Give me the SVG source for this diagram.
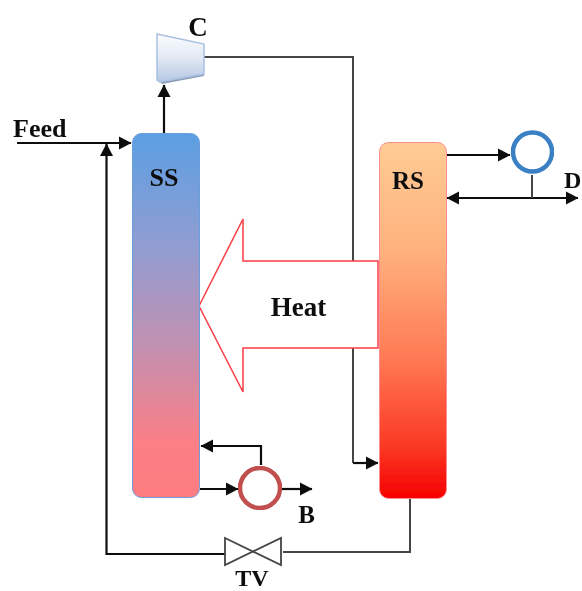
<svg xmlns="http://www.w3.org/2000/svg" width="582" height="591" viewBox="0 0 582 591">
<style>
g{filter:url(#soft)}
.lbl{font-family:"Liberation Serif","DejaVu Serif",serif;font-weight:bold;fill:#111}
.pipe{fill:none;stroke:#444;stroke-width:2}
.flow{fill:none;stroke:#111;stroke-width:2.200}
</style>
<defs>
<filter id="soft" x="-5%" y="-5%" width="110%" height="110%" filterUnits="objectBoundingBox"><feGaussianBlur stdDeviation="0.4"/></filter>
<marker id="ah" markerUnits="userSpaceOnUse" markerWidth="14" markerHeight="14" refX="12" refY="7" orient="auto-start-reverse"><path d="M0,0.5L12.500,7L0,13.500Z" fill="#111"/></marker>
<linearGradient id="ssG" x1="0" y1="0" x2="0" y2="1"><stop offset="0" stop-color="#5b9fe2"/><stop offset=".3" stop-color="#8f9dd2"/><stop offset=".55" stop-color="#bb92b5"/><stop offset=".85" stop-color="#fb7f86"/><stop offset="1" stop-color="#fd7c80"/></linearGradient>
<linearGradient id="rsG" x1="0" y1="0" x2="0" y2="1"><stop offset="0" stop-color="#ffcb94"/><stop offset=".3" stop-color="#ffb27e"/><stop offset=".6" stop-color="#ff7b55"/><stop offset=".85" stop-color="#fb3a25"/><stop offset="1" stop-color="#f50000"/></linearGradient>
<linearGradient id="cG" x1="0" y1="0" x2="0" y2="1"><stop offset="0" stop-color="#fbfcfe"/><stop offset=".5" stop-color="#e2e9f4"/><stop offset="1" stop-color="#b3c7e3"/></linearGradient>
</defs>
<rect width="582" height="591" fill="#fff"/>
<g id="connectors">
<path class="pipe" d="M204,57H353V463"/>
<path class="flow" d="M353,463H378" marker-end="url(#ah)"/>
<path class="flow" d="M164,133V85" marker-end="url(#ah)"/>
<path class="flow" d="M17,143H131" marker-end="url(#ah)"/>
<path class="flow" d="M226,554H106.500V144" marker-end="url(#ah)"/>
<path class="pipe" d="M410,498V552H283"/>
<path class="flow" d="M446,155H510" marker-end="url(#ah)"/>
<path class="flow" d="M447,198H578" marker-start="url(#ah)" marker-end="url(#ah)"/>
<path class="pipe" d="M532,175V198"/>
<path class="flow" d="M261,465V446H201" marker-end="url(#ah)"/>
<path class="flow" d="M200,489H238" marker-end="url(#ah)"/>
<path class="flow" d="M282,489H312" marker-end="url(#ah)"/>
</g>
<g id="heat">
<path d="M199,306L243,219V261H378V348H243V392Z" fill="#fff" stroke="#fb3c44" stroke-width="1.500"/>
<text class="lbl" x="298.500" y="316" font-size="27" text-anchor="middle">Heat</text>
</g>
<g id="SS">
<rect x="132.500" y="133.500" width="67" height="364" rx="9" fill="url(#ssG)" stroke="#6b9fdc" stroke-width="1"/>
<text class="lbl" x="164" y="186" font-size="26" text-anchor="middle">SS</text>
</g>
<g id="RS">
<rect x="379.500" y="142.500" width="67" height="356" rx="9" fill="url(#rsG)" stroke="#fb8f8f" stroke-width="1"/>
<text class="lbl" x="408" y="189" font-size="25" text-anchor="middle">RS</text>
</g>
<g id="C">
<path d="M160,82L204,74V76L162,84Z" fill="#8a9bb5"/>
<path d="M157,34L204,44V74L160,82L157,80Z" fill="url(#cG)" stroke="#a9c0e2" stroke-width="1.500"/>
<text class="lbl" x="198" y="36" font-size="27" text-anchor="middle">C</text>
</g>
<g id="condenser">
<circle cx="532.500" cy="152" r="19.500" fill="#fff" stroke="#3b7fc4" stroke-width="4.500"/>
</g>
<g id="reboiler">
<circle cx="260" cy="488" r="20" fill="#fff" stroke="#c0504d" stroke-width="4.500"/>
</g>
<g id="TV">
<path d="M225,538L281,565V538L225,565Z" fill="#fff" stroke="#444" stroke-width="1.800"/>
<text class="lbl" x="252" y="585.500" font-size="24" text-anchor="middle">TV</text>
</g>
<g id="labels">
<text class="lbl" x="13" y="137" font-size="26">Feed</text>
<text class="lbl" x="306.500" y="523" font-size="25" text-anchor="middle">B</text>
<text class="lbl" x="564" y="188" font-size="24">D</text>
</g>
</svg>
